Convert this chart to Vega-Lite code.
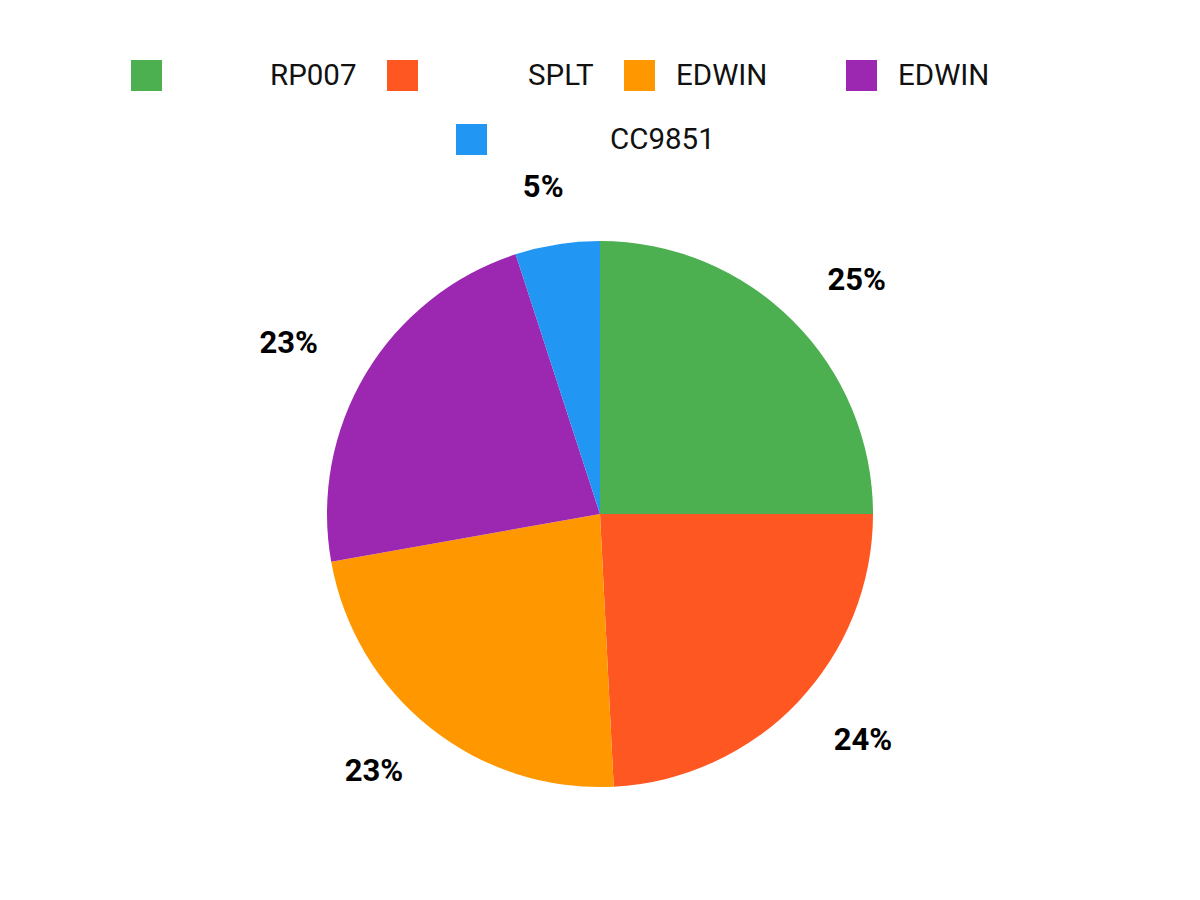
{
  "$schema": "https://vega.github.io/schema/vega-lite/v6.json",
  "width": 1200,
  "height": 772,
  "autosize": {"type": "none"},
  "padding": {"top": 128, "left": 0, "right": 0, "bottom": 0},
  "background": "white",
  "data": {
    "values": [
      {"series": "RP007", "share": 0.25, "rank": 1},
      {"series": "SPLT", "share": 0.242, "rank": 2},
      {"series": "EDWIN", "share": 0.23, "rank": 3},
      {"series": "EDWIN#2", "share": 0.228, "rank": 4},
      {"series": "CC9851", "share": 0.05, "rank": 5}
    ]
  },
  "layer": [
    {
      "mark": {"type": "arc", "outerRadius": 273, "strokeWidth": 0},
      "encoding": {
        "theta": {"field": "share", "type": "quantitative", "stack": true},
        "order": {"field": "rank", "type": "quantitative"},
        "color": {
          "field": "series",
          "type": "nominal",
          "scale": {
            "domain": ["RP007", "SPLT", "EDWIN", "EDWIN#2", "CC9851"],
            "range": ["#4CAF50", "#FF5722", "#FF9800", "#9C27B0", "#2196F3"]
          },
          "legend": {
            "title": null,
            "orient": "none",
            "legendX": 131,
            "legendY": -68,
            "direction": "horizontal",
            "values": ["RP007", "SPLT", "EDWIN", "EDWIN#2"],
            "symbolType": "square",
            "symbolSize": 961,
            "symbolStrokeWidth": 0,
            "labelFont": "Roboto",
            "labelFontSize": 29.5,
            "labelColor": "#111111",
            "labelOffset": 21,
            "labelLimit": 0,
            "columnPadding": 30,
            "padding": 0,
            "labelExpr": "split(datum.label, '#')[0]",
            "encode": {
              "symbols": {
                "update": {
                  "x": {"signal": "datum.value === 'EDWIN#2' ? 63.5 : 15.5"}
                }
              },
              "labels": {
                "update": {
                  "dx": {"signal": "datum.value === 'RP007' ? 87 : datum.value === 'SPLT' ? 89 : datum.value === 'EDWIN#2' ? 48 : 0"}
                }
              }
            }
          }
        },
        "stroke": {
          "field": "series",
          "type": "nominal",
          "scale": {"domain": ["CC9851"], "range": ["#2196F3"]},
          "legend": {
            "title": null,
            "orient": "none",
            "legendX": 456,
            "legendY": -4,
            "direction": "horizontal",
            "values": ["CC9851"],
            "symbolType": "square",
            "symbolSize": 961,
            "symbolStrokeWidth": 0,
            "symbolFillColor": "#2196F3",
            "labelFont": "Roboto",
            "labelFontSize": 29.5,
            "labelColor": "#111111",
            "labelOffset": 21,
            "labelLimit": 0,
            "padding": 0,
            "encode": {
              "symbols": {
                "update": {
                  "fill": {"value": "#2196F3"},
                  "strokeWidth": {"value": 0},
                  "opacity": {"value": 1}
                }
              },
              "labels": {
                "update": {
                  "dx": {"value": 102}
                }
              }
            }
          }
        }
      }
    },
    {
      "mark": {
        "type": "text",
        "radius": 330,
        "dx": {"expr": "33 * sin(scale('theta', 0.5 * datum['share_start'] + 0.5 * datum['share_end']))"},
        "font": "Roboto",
        "fontSize": 31,
        "fontWeight": "bold",
        "color": "#000000",
        "align": "center",
        "baseline": "middle"
      },
      "encoding": {
        "theta": {"field": "share", "type": "quantitative", "stack": true},
        "order": {"field": "rank", "type": "quantitative"},
        "detail": {"field": "series", "type": "nominal"},
        "text": {"field": "share", "type": "quantitative", "format": ".0%"}
      }
    }
  ],
  "config": {"view": {"stroke": null}}
}
